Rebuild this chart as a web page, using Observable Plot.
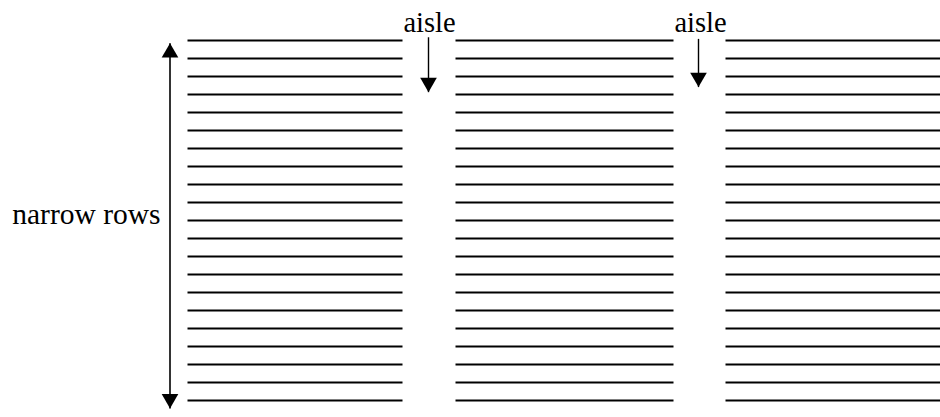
<!DOCTYPE html>
<html>
<head>
<meta charset="utf-8">
<script src="https://cdn.jsdelivr.net/npm/d3@7"></script>
<script src="https://cdn.jsdelivr.net/npm/@observablehq/plot@0.6"></script>
<style>
html, body { margin: 0; padding: 0; background: #fff; overflow: hidden; }
#chart svg { display: block; }
#chart svg text { font-family: "Liberation Serif", "Times New Roman", serif !important; }
</style>
</head>
<body>
<div id="chart"></div>
<script>
// Row numbers (each narrow row is one horizontal line)
const rows = [1, 2, 3, 4, 5, 6, 7, 8, 9, 10, 11, 12, 13, 14, 15, 16, 17, 18, 19, 20, 21];
// Three blocks of rows separated by aisles (x extents in drawing units)
const blockNames = ["left block", "middle block", "right block"];
const blockStart = [187, 455, 725];
const blockEnd = [402, 673, 940];

// Double-headed "narrow rows" dimension arrow (x, start row, end row)
const spanX = 169.5;
const spanTop = 1.15;
const spanBottom = 21.44;

// Aisle labels and their downward arrows
const aisleLabels = ["aisle", "aisle"];
const aisleLabelX = [429, 700];
const aisleArrowX = [428, 698];
const aisleArrowFrom = [0.82, 0.91];
const aisleArrowTip = [3.87, 3.59];

const rowLabel = "narrow rows";

// ---- build tables for the library ----
const lines = [];
blockNames.forEach((b, i) => rows.forEach(r => lines.push({block: b, row: r, x1: blockStart[i], x2: blockEnd[i]})));

const aisles = aisleLabels.map((t, i) => ({label: t, lx: aisleLabelX[i], ax: aisleArrowX[i], from: aisleArrowFrom[i], tip: aisleArrowTip[i]}));

const headHalf = 4.8; // px: triangle geometry unit
const rowPx = 18;     // px per row in y range
const headOffset = 2 * headHalf / rowPx; // tip-to-centroid offset, in row units
const headR = Math.sqrt(headHalf * headHalf * Math.sqrt(3) * 3 / Math.PI);

const heads = [
  {x: spanX, y: spanTop + headOffset, rot: 0},
  {x: spanX, y: spanBottom - headOffset, rot: 180},
  ...aisles.map(a => ({x: a.ax, y: a.tip - headOffset, rot: 180}))
];

const font = "'Liberation Serif', 'Times New Roman', serif";

const chart = Plot.plot({
  width: 940,
  height: 417,
  margin: 0,
  x: {domain: [0, 940], range: [0, 940], axis: null},
  y: {domain: [1, 21], range: [40, 400], axis: null},
  style: {background: "#fff", fontFamily: font},
  marks: [
    // narrow rows
    Plot.link(lines, {x1: "x1", x2: "x2", y1: "row", y2: "row", stroke: "#000", strokeWidth: 1.8}),
    // span arrow shaft
    Plot.link([{x: spanX, a: spanTop, b: spanBottom}], {x1: "x", x2: "x", y1: "a", y2: "b", stroke: "#000", strokeWidth: 1.6}),
    // aisle arrow shafts
    Plot.link(aisles, {x1: "ax", x2: "ax", y1: "from", y2: "tip", stroke: "#000", strokeWidth: 1.4}),
    // arrowheads
    Plot.dot(heads, {x: "x", y: "y", rotate: "rot", symbol: "triangle", r: headR, fill: "#000", stroke: "none"}),
    // labels
    Plot.text(aisles, {x: "lx", y: 0.04, text: "label", fontSize: 28.5, fontFamily: font, fill: "#000", textAnchor: "middle"}),
    Plot.text([rowLabel], {x: 160, y: 10.66, text: d => d, fontSize: 29.5, fontFamily: font, fill: "#000", textAnchor: "end"})
  ]
});

document.getElementById("chart").appendChild(chart);
</script>
</body>
</html>
